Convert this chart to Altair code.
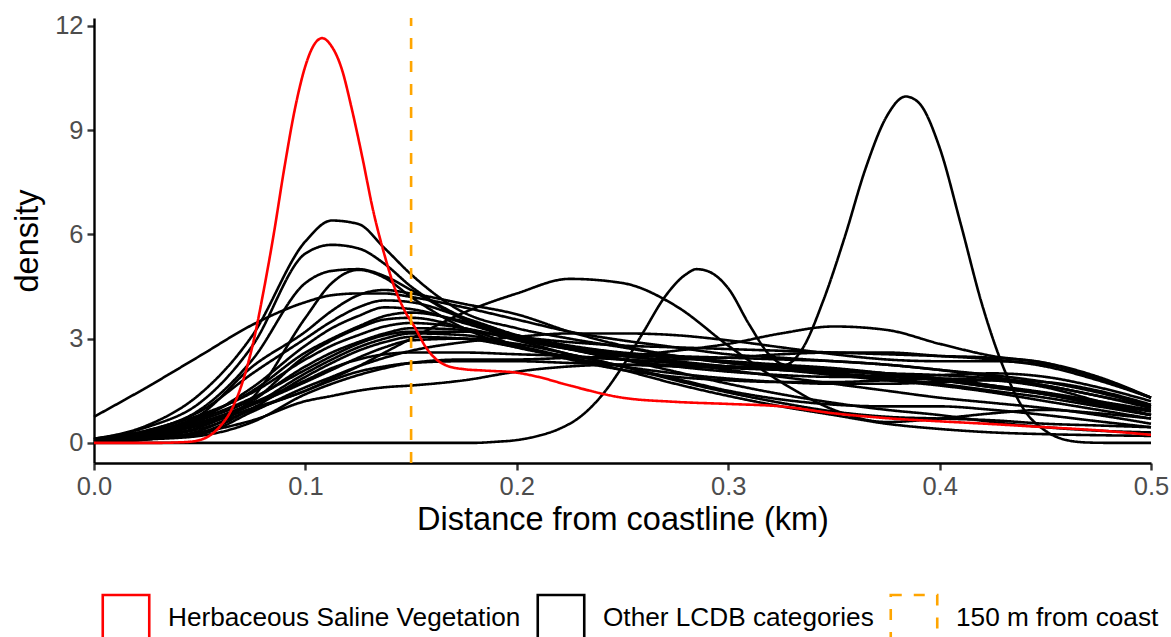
import altair as alt
import pandas as pd

# Shared distance grid (km) for the "other LCDB" density curves
dist_km = [0.0, 0.025, 0.05, 0.075, 0.1, 0.1125, 0.125, 0.1375, 0.15, 0.175, 0.2, 0.225,
           0.25, 0.275, 0.3, 0.325, 0.35, 0.375, 0.4, 0.425, 0.45, 0.475, 0.5]

lcdb_01 = [0.75, 1.6, 2.5, 3.4, 4.05, 4.25, 4.3, 4.3, 4.2, 3.9, 3.55, 3.2, 2.95, 2.75, 2.55, 2.45, 2.35, 2.25, 2.1, 1.95, 1.75, 1.45, 1.05]
lcdb_02 = [0.12, 0.5, 1.4, 3.1, 5.8, 6.4, 6.3, 5.6, 4.85, 3.75, 3.3, 3.0, 2.75, 2.5, 2.3, 2.15, 2.0, 1.85, 1.7, 1.5, 1.3, 1.05, 0.8]
lcdb_03 = [0.1, 0.45, 1.15, 2.8, 5.45, 5.7, 5.6, 5.15, 4.5, 3.6, 3.05, 2.75, 2.55, 2.45, 2.35, 2.25, 2.15, 2.0, 1.85, 1.65, 1.45, 1.2, 0.95]
lcdb_04 = [0.08, 0.35, 0.95, 2.4, 4.6, 4.95, 5.0, 4.8, 4.4, 3.55, 3.0, 2.7, 2.5, 2.35, 2.2, 2.1, 2.0, 1.9, 1.8, 1.6, 1.4, 1.1, 0.8]
lcdb_05 = [0.02, 0.1, 0.35, 1.3, 3.6, 4.6, 4.98, 4.75, 4.2, 3.3, 2.75, 2.5, 2.4, 2.3, 2.1, 1.9, 1.7, 1.5, 1.3, 1.15, 1.0, 0.8, 0.55]
lcdb_06 = [0.05, 0.2, 0.5, 1.0, 1.5, 1.85, 2.2, 2.6, 3.0, 3.75, 4.3, 4.72, 4.6, 3.95, 2.8, 1.75, 0.95, 0.6, 0.7, 0.85, 0.95, 0.85, 0.7]
lcdb_07 = [0.03, 0.1, 0.2, 0.6, 1.4, 1.7, 1.95, 2.15, 2.3, 2.4, 2.4, 2.45, 2.5, 2.65, 2.85, 3.15, 3.35, 3.25, 2.85, 2.5, 2.3, 1.85, 1.3]
lcdb_08 = [0.02, 0.1, 0.3, 0.65, 1.2, 1.35, 1.5, 1.6, 1.65, 1.8, 2.05, 2.2, 2.25, 2.25, 2.2, 2.15, 2.1, 2.0, 1.85, 1.65, 1.4, 1.1, 0.8]
lcdb_09 = [0.03, 0.15, 0.4, 0.95, 1.5, 1.8, 2.05, 2.2, 2.3, 2.35, 2.35, 2.3, 2.25, 2.2, 2.15, 2.1, 2.05, 2.0, 1.95, 1.85, 1.65, 1.35, 1.05]
lcdb_10 = [0.05, 0.2, 0.55, 1.15, 1.8, 2.15, 2.4, 2.55, 2.6, 2.6, 2.55, 2.5, 2.4, 2.3, 2.2, 2.1, 1.95, 1.8, 1.65, 1.45, 1.2, 0.95, 0.7]
lcdb_11 = [0.08, 0.3, 0.8, 2.2, 3.2, 3.8, 4.25, 4.4, 4.3, 4.0, 3.7, 3.2, 2.8, 2.5, 2.3, 2.2, 2.1, 1.95, 1.8, 1.6, 1.4, 1.15, 0.9]
lcdb_12 = [0.1, 0.35, 0.9, 2.0, 3.0, 3.5, 3.9, 4.1, 4.05, 3.6, 3.1, 2.7, 2.4, 2.2, 2.05, 1.95, 1.9, 1.9, 1.95, 2.0, 1.9, 1.6, 1.2]
lcdb_13 = [0.05, 0.25, 0.7, 1.6, 2.8, 3.3, 3.65, 3.9, 3.85, 3.45, 3.0, 2.7, 2.5, 2.4, 2.45, 2.55, 2.6, 2.6, 2.5, 2.4, 2.2, 1.8, 1.3]
lcdb_14 = [0.1, 0.3, 0.75, 1.5, 2.6, 3.0, 3.35, 3.65, 3.75, 3.5, 3.1, 2.8, 2.6, 2.5, 2.45, 2.4, 2.35, 2.25, 2.1, 1.9, 1.65, 1.35, 1.0]
lcdb_15 = [0.05, 0.2, 0.45, 1.2, 2.5, 2.95, 3.3, 3.55, 3.6, 3.3, 2.8, 2.4, 2.1, 1.9, 1.8, 1.75, 1.75, 1.8, 1.85, 1.8, 1.6, 1.2, 0.8]
lcdb_16 = [0.12, 0.35, 0.8, 1.45, 2.4, 2.8, 3.1, 3.35, 3.45, 3.3, 2.95, 2.55, 2.2, 1.85, 1.5, 1.25, 1.1, 1.05, 1.05, 0.95, 0.8, 0.62, 0.45]
lcdb_17 = [0.06, 0.25, 0.65, 1.25, 2.2, 2.6, 2.9, 3.15, 3.3, 3.25, 3.0, 2.7, 2.4, 2.05, 1.7, 1.4, 1.15, 0.95, 0.8, 0.6, 0.45, 0.35, 0.3]
lcdb_18 = [0.1, 0.3, 0.7, 1.3, 2.1, 2.5, 2.85, 3.1, 3.2, 3.2, 3.05, 2.9, 2.8, 2.75, 2.7, 2.65, 2.6, 2.55, 2.5, 2.45, 2.3, 1.9, 1.3]
lcdb_19 = [0.04, 0.15, 0.3, 1.0, 1.9, 2.3, 2.65, 2.9, 3.05, 3.0, 2.75, 2.45, 2.2, 2.0, 1.85, 1.75, 1.7, 1.7, 1.75, 1.8, 1.75, 1.5, 1.1]
lcdb_20 = [0.08, 0.25, 0.6, 1.1, 1.75, 2.1, 2.45, 2.75, 2.95, 3.0, 2.85, 2.55, 2.2, 1.8, 1.45, 1.15, 0.9, 0.75, 0.7, 0.65, 0.55, 0.5, 0.45]
lcdb_21 = [0.05, 0.15, 0.25, 0.9, 1.6, 1.9, 2.2, 2.45, 2.65, 2.9, 3.05, 3.15, 3.15, 3.1, 2.95, 2.75, 2.55, 2.4, 2.35, 2.35, 2.25, 1.85, 1.3]
lcdb_22 = [0.05, 0.2, 0.55, 1.1, 2.0, 2.4, 2.75, 3.0, 3.15, 3.1, 2.8, 2.45, 2.1, 1.7, 1.35, 1.05, 0.8, 0.55, 0.4, 0.3, 0.25, 0.22, 0.2]

# Inland category with two sharp modes, on its own finer grid
bimodal_km = [0.0, 0.1, 0.18, 0.19, 0.2, 0.21, 0.22, 0.23, 0.24, 0.25, 0.26, 0.27, 0.28, 0.285,
              0.29, 0.3, 0.31, 0.32, 0.327, 0.335, 0.345, 0.355, 0.365, 0.375, 0.384, 0.39,
              0.4, 0.41, 0.42, 0.43, 0.44, 0.45, 0.46, 0.47, 0.48, 0.5]
bimodal_density = [0.0, 0.0, 0.0, 0.03, 0.08, 0.2, 0.4, 0.75, 1.35, 2.2, 3.2, 4.2, 4.85, 5.0,
                   4.95, 4.45, 3.4, 2.5, 2.25, 2.7, 4.1, 5.9, 7.9, 9.4, 9.97, 9.8,
                   8.5, 6.3, 4.0, 2.2, 0.95, 0.35, 0.08, 0.01, 0.0, 0.0]

# Herbaceous Saline Vegetation
saline_km = [0.0, 0.03, 0.045, 0.05, 0.055, 0.06, 0.065, 0.07, 0.075, 0.08, 0.085, 0.09, 0.095,
             0.1, 0.104, 0.108, 0.112, 0.117, 0.122, 0.127, 0.132, 0.137, 0.142, 0.147, 0.152,
             0.157, 0.162, 0.167, 0.175, 0.185, 0.2, 0.21, 0.225, 0.25, 0.275, 0.3, 0.325,
             0.35, 0.375, 0.4, 0.425, 0.45, 0.475, 0.5]
saline_density = [0.0, 0.0, 0.03, 0.08, 0.22, 0.5, 0.95, 1.7, 2.8, 4.3, 6.0, 7.9, 9.6,
                  10.85, 11.45, 11.65, 11.45, 10.8, 9.6, 8.2, 6.7, 5.5, 4.5, 3.8, 3.3,
                  2.75, 2.4, 2.22, 2.12, 2.08, 2.02, 1.9, 1.65, 1.3, 1.18, 1.12, 1.05,
                  0.85, 0.71, 0.62, 0.54, 0.45, 0.36, 0.23]

coast_line_km = [0.15]

GROUPS = ["Herbaceous Saline Vegetation", "Other LCDB categories", "150 m from coast"]
COLORS = ["#FF0000", "#000000", "#FFA500"]
DASHES = [[1, 0], [1, 0], [11, 12]]

other_curves = [lcdb_01, lcdb_02, lcdb_03, lcdb_04, lcdb_05, lcdb_06, lcdb_07, lcdb_08,
                lcdb_09, lcdb_10, lcdb_11, lcdb_12, lcdb_13, lcdb_14, lcdb_15, lcdb_16,
                lcdb_17, lcdb_18, lcdb_19, lcdb_20, lcdb_21, lcdb_22]

rows = []
for i, ys in enumerate(other_curves):
    for x, y in zip(dist_km, ys):
        rows.append({"curve": f"c{i:02d}", "km": x, "density": y, "group": GROUPS[1]})
for x, y in zip(bimodal_km, bimodal_density):
    rows.append({"curve": "bimodal", "km": x, "density": y, "group": GROUPS[1]})
other_df = pd.DataFrame(rows)

saline_df = pd.DataFrame({"km": saline_km, "density": saline_density, "group": GROUPS[0]})
rule_df = pd.DataFrame({"km": coast_line_km, "group": GROUPS[2]})

FONT = "Liberation Sans"
LINE_W = 2.6

legend = alt.Legend(
    title=None, orient="none", legendX=7, legendY=575, direction="horizontal",
    symbolType="square", symbolSize=2162, symbolStrokeWidth=2.6,
    symbolFillColor="transparent", labelFontSize=26.2, labelColor="#000000",
    labelFont=FONT, labelOffset=17, columnPadding=11, labelLimit=600,
)
color = alt.Color("group:N", scale=alt.Scale(domain=GROUPS, range=COLORS), legend=legend)
dash = alt.StrokeDash("group:N", scale=alt.Scale(domain=GROUPS, range=DASHES), legend=legend)

x_enc = alt.X(
    "km:Q", scale=alt.Scale(domain=[0, 0.5], nice=False, zero=False),
    axis=alt.Axis(values=[0, 0.1, 0.2, 0.3, 0.4, 0.5], format=".1f", labelFlush=False,
                  title="Distance from coastline (km)"),
)
y_enc = alt.Y(
    "density:Q", scale=alt.Scale(domain=[-0.58, 12.23], nice=False, zero=False),
    axis=alt.Axis(values=[0, 3, 6, 9, 12], title="density"),
)

others = alt.Chart(other_df).mark_line(strokeWidth=LINE_W, interpolate="monotone").encode(
    x=x_enc, y=y_enc, color=color, strokeDash=dash, detail="curve:N"
)
saline = alt.Chart(saline_df).mark_line(strokeWidth=LINE_W, interpolate="monotone").encode(
    x=x_enc, y=y_enc, color=color, strokeDash=dash
)
coast = alt.Chart(rule_df).mark_rule(strokeWidth=2.6).encode(
    x="km:Q", y=alt.value(445), y2=alt.value(0), color=color, strokeDash=dash
)

chart = alt.layer(others, saline, coast).properties(
    width=1057, height=445,
    padding={"left": 94, "top": 18, "right": 20, "bottom": 174},
    autosize=alt.AutoSizeParams(type="none"),
).configure_view(stroke=None).configure_axis(
    grid=False, domainColor="#000000", domainWidth=2.4, tickColor="#333333",
    tickWidth=2.4, tickSize=7, labelFont=FONT, labelFontSize=25.5, labelColor="#4D4D4D",
    labelPadding=4, titleFont=FONT, titleFontSize=32.5, titleFontWeight="normal",
    titleColor="#000000",
).configure_axisX(titlePadding=4).configure_axisY(titlePadding=10)

chart.save("out.html", embed_options={"renderer": "svg", "actions": False})
